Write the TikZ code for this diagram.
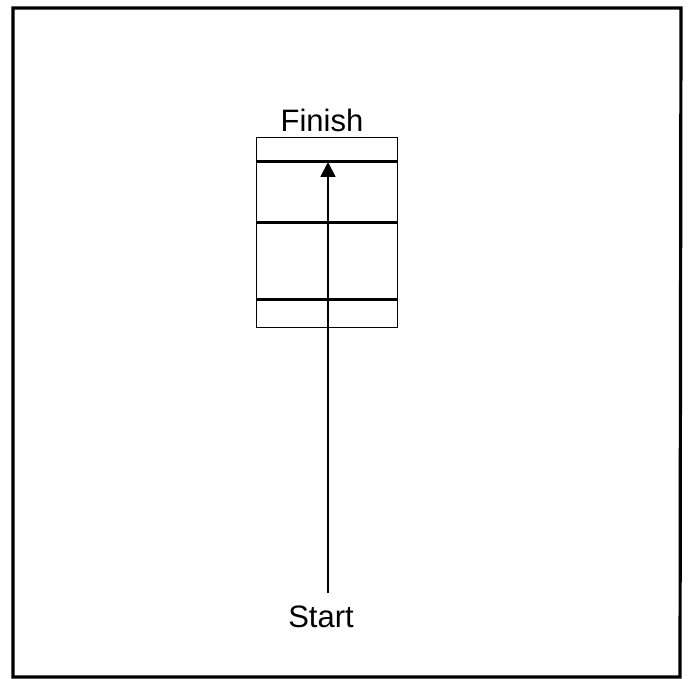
\documentclass[tikz,border=0pt]{standalone}
\usepackage{fontspec}
\setmainfont{Liberation Sans}
\usetikzlibrary{arrows.meta}
\begin{document}
\begin{tikzpicture}[x=1pt,y=-1pt,
  lbl/.style={font=\fontsize{31}{36}\selectfont, inner sep=0pt},
  thinbox/.style={draw, line width=1.4pt},
  rowline/.style={line width=3pt},
  frame/.style={draw, line width=3.2pt}]
\useasboundingbox (0,0) rectangle (688,679);
\draw[frame] (13,8) -- (681,8) -- (680,677) -- (13,677) -- cycle;
% table box
\node[thinbox, minimum width=141pt, minimum height=190pt, inner sep=0pt, anchor=north west] (tbl) at (256,137) {};
\coordinate (r1) at (256,162);
\coordinate (r2) at (256,223);
\coordinate (r3) at (256,299);
\draw[rowline] (r1) -- (r1 -| tbl.east);
\draw[rowline] (r2) -- (r2 -| tbl.east);
\draw[rowline] (r3) -- (r3 -| tbl.east);
% labels
\node[lbl, anchor=base] (finish) at (322,132) {Finish};
\node[lbl, anchor=base] (start) at (321,627) {Start};
% arrow
\coordinate (tip) at (328,162);
\coordinate (tail) at (328,593);
\draw[line width=1.8pt, -{Triangle[length=15pt,width=15pt]}] (tail) -- (tip);
\end{tikzpicture}
\end{document}
